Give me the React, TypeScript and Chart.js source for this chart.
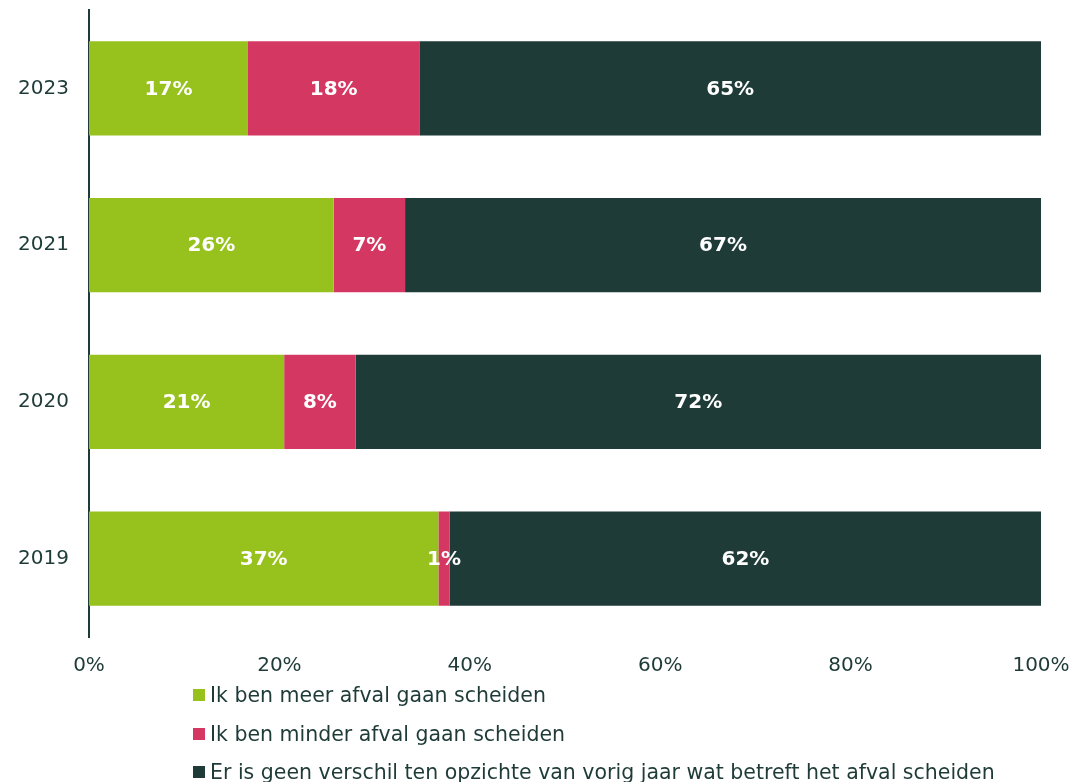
import React, { useEffect, useRef } from "react";
import { Chart, registerables } from "chart.js";

Chart.register(...registerables);

const categories = ["2023", "2021", "2020", "2019"];
const meerValues = [16.7, 25.7, 20.5, 36.7];
const minderValues = [18.0, 7.5, 7.5, 1.2];
const geenValues = [65.3, 66.8, 72.0, 62.1];
const meerLabels = ["17%", "26%", "21%", "37%"];
const minderLabels = ["18%", "7%", "8%", "1%"];
const geenLabels = ["65%", "67%", "72%", "62%"];
const seriesNames = [
  "Ik ben meer afval gaan scheiden",
  "Ik ben minder afval gaan scheiden",
  "Er is geen verschil ten opzichte van vorig jaar wat betreft het afval scheiden",
];
const seriesColors = ["#97C21E", "#D43862", "#1E3B38"];
const xTicks = [0, 20, 40, 60, 80, 100];

const FONT = "'DejaVu Sans', 'Noto Sans', sans-serif";
const TEXT = "#1E3B38";

const labelPlugin = {
  id: "barLabels",
  afterDatasetsDraw(chart: any) {
    const { ctx } = chart;
    const allLabels = [meerLabels, minderLabels, geenLabels];
    ctx.save();
    ctx.font = `bold 20px ${FONT}`;
    ctx.fillStyle = "#ffffff";
    ctx.textAlign = "center";
    ctx.textBaseline = "middle";
    chart.data.datasets.forEach((_: any, di: number) => {
      const meta = chart.getDatasetMeta(di);
      meta.data.forEach((bar: any, i: number) => {
        const p = bar.getProps(["x", "y", "base"], true);
        const cx = (p.x + p.base) / 2;
        ctx.fillText(allLabels[di][i], cx, p.y + 1);
      });
    });
    ctx.restore();
  },
};

export default function App() {
  const ref = useRef<HTMLCanvasElement | null>(null);
  useEffect(() => {
    if (!ref.current) return;
    const values = [meerValues, minderValues, geenValues];
    const chart = new Chart(ref.current, {
      type: "bar",
      data: {
        labels: categories,
        datasets: seriesNames.map((name, i) => ({
          label: name,
          data: values[i],
          backgroundColor: seriesColors[i],
          borderWidth: 0,
          barPercentage: 0.6,
          categoryPercentage: 1,
        })),
      },
      options: {
        indexAxis: "y",
        animation: false,
        responsive: false,
        maintainAspectRatio: false,
        layout: { padding: { top: 10, right: 30, left: 0, bottom: 0 } },
        plugins: { legend: { display: false }, tooltip: { enabled: false } },
        scales: {
          x: {
            stacked: true,
            min: 0,
            max: 100,
            afterBuildTicks: (s: any) => {
              s.ticks = xTicks.map((v) => ({ value: v }));
            },
            afterFit: (s: any) => {
              s.height = 145;
              s.paddingLeft = 0;
              s.paddingRight = 0;
            },
            grid: { display: false, drawTicks: false },
            border: { display: false },
            ticks: {
              padding: 17,
              color: TEXT,
              font: { family: FONT, size: 20 },
              maxRotation: 0,
              callback: (v: any) => `${v}%`,
            },
          },
          y: {
            stacked: true,
            afterFit: (s: any) => {
              s.width = 89;
              s.paddingTop = 0;
              s.paddingBottom = 0;
            },
            grid: { display: false, drawTicks: false },
            border: { display: true, color: TEXT, width: 2 },
            ticks: {
              padding: 20,
              color: TEXT,
              font: { family: FONT, size: 20 },
            },
          },
        },
      },
      plugins: [labelPlugin],
    });
    return () => chart.destroy();
  }, []);

  return (
    <div style={{ position: "fixed", left: 0, top: 0, width: 1071, height: 782, background: "#fff" }}>
      <canvas ref={ref} width={1071} height={782} style={{ position: "absolute", left: 0, top: 0 }} />
      <div style={{ position: "absolute", left: 193, top: 676, fontFamily: FONT, fontSize: 20.5, color: TEXT }}>
        {seriesNames.map((name, i) => (
          <div key={name} style={{ display: "flex", alignItems: "center", height: 38.5, whiteSpace: "nowrap" }}>
            <span style={{ display: "inline-block", width: 12, height: 12, background: seriesColors[i], marginRight: 5 }} />
            <span>{name}</span>
          </div>
        ))}
      </div>
    </div>
  );
}
